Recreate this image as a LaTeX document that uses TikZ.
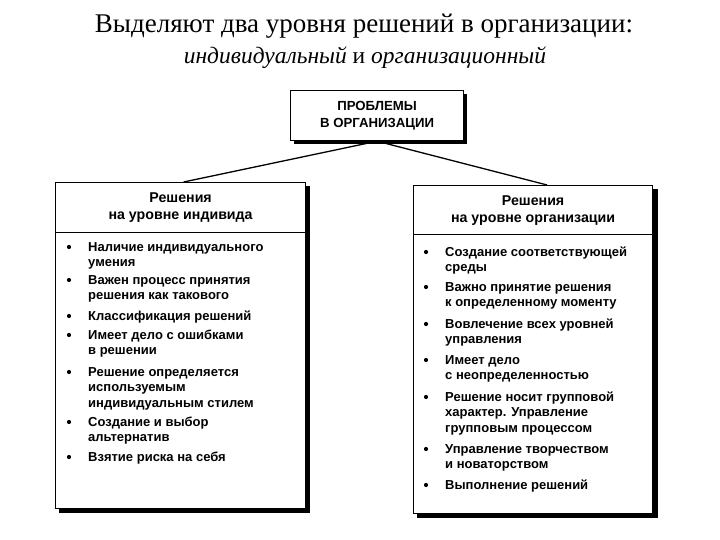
\documentclass[tikz,border=0pt]{standalone}
\usepackage{fontspec}
\setmainfont{Liberation Serif}
\newfontfamily\boxfont{Liberation Sans}
\usetikzlibrary{positioning}

\tikzset{
  frame/.style={draw, line width=1.2pt, fill=white, inner sep=0pt, anchor=north west, align=center},
  head/.style={font=\boxfont\bfseries\fontsize{14.2}{17}\selectfont},
  item/.style={font=\boxfont\bfseries\fontsize{13}{15.5}\selectfont, align=left, anchor=north west, inner sep=0pt},
  titlefont/.style={font=\fontsize{27}{32}\selectfont, anchor=base},
}

\begin{document}
\begin{tikzpicture}[x=1pt, y=-1pt]
    \useasboundingbox (0,0) rectangle (720,540);

	% title
	\node[titlefont] (title) at (364,33) {Выделяют два уровня решений в организации:};
	\node[titlefont, font=\fontsize{23.5}{28}\selectfont] (sub) at (365,64) {\textit{индивидуальный} и \textit{организационный}};

	% shadows
	\fill (294,94) rectangle (467,144);
	\fill (59,186) rectangle (310,513);
	\fill (417,189) rectangle (658,518);

	% boxes
	\node[frame, minimum width=173pt, minimum height=50pt, font=\boxfont\bfseries\fontsize{13.2}{16.5}\selectfont] (prob) at (290,90) {ПРОБЛЕМЫ\\В ОРГАНИЗАЦИИ};
	\node[frame, head, minimum width=250pt, minimum height=50pt] (lhead) at (55,182) {Решения\\на уровне индивида};
	\node[frame, minimum width=250pt, minimum height=276pt] (lbody) at (55,232) {};
	\node[frame, head, minimum width=239pt, minimum height=49pt] (rhead) at (413,185) {Решения\\на уровне организации};
	\node[frame, minimum width=239pt, minimum height=279pt] (rbody) at (413,234) {};

	% connectors
	\draw [line width=1.3pt] (prob.south) -- ([xshift=3pt]lhead.north);
	\draw [line width=1.3pt] (prob.south) -- ([xshift=14pt]rhead.north);

	% left list
	\foreach \y/\t [count=\i] in {240/{Наличие индивидуального\\умения},
	                              273/{Важен процесс принятия\\решения как такового},
	                              309/{Классификация решений},
	                              328/{Имеет дело с ошибками\\в решении},
	                              365/{Решение определяется\\используемым\\индивидуальным стилем},
	                              415/{Создание и выбор\\альтернатив},
	                              450/{Взятие риска на себя}} {
		\node[item] (li\i) at (88,\y) {\strut\t};
		\fill ([xshift=-19pt, yshift=-7pt]li\i.north west) circle (2.1pt);
	}

	% right list
	\foreach \y/\t [count=\i] in {245/{Создание соответствующей\\среды},
	                              280/{Важно принятие решения\\к определенному моменту},
	                              317/{Вовлечение всех уровней\\управления},
	                              353/{Имеет дело\\с неопределенностью},
	                              390/{Решение носит групповой\\характер. Управление\\групповым процессом},
	                              442/{Управление творчеством\\и новаторством},
	                              478/{Выполнение решений}} {
		\node[item] (ri\i) at (445,\y) {\strut\t};
		\fill ([xshift=-19pt, yshift=-7pt]ri\i.north west) circle (2.1pt);
	}
\end{tikzpicture}
\end{document}
